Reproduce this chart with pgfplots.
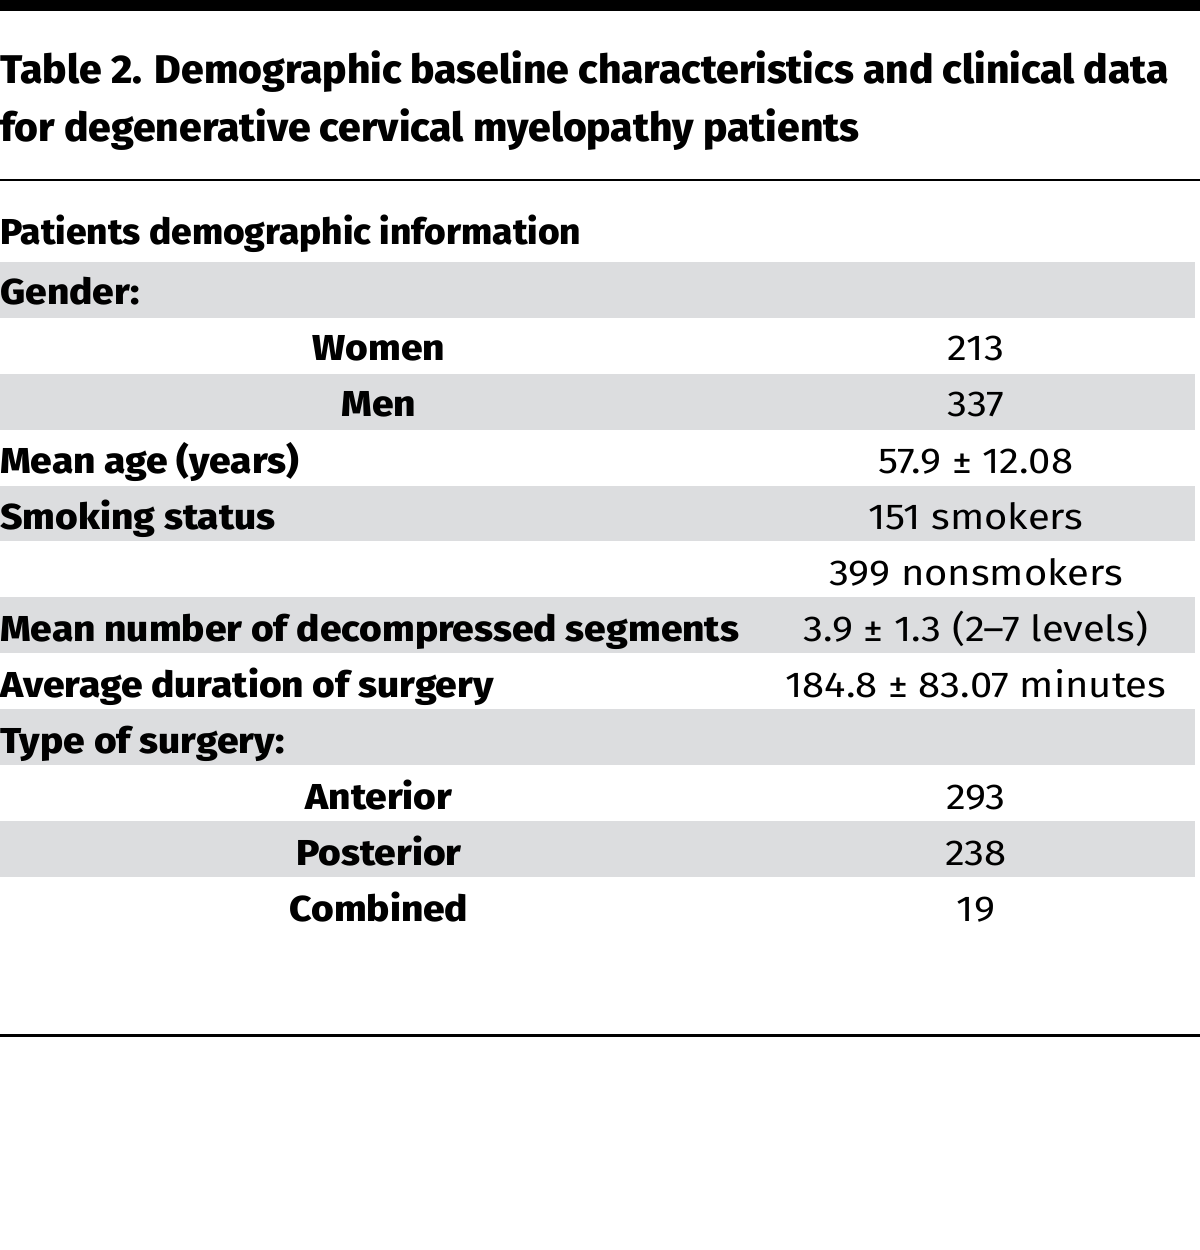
\documentclass[border=0pt]{standalone}
\usepackage{fontspec}
\setmainfont{Fira Sans}
\newfontfamily\titlefont[FakeStretch=1.02]{Fira Sans ExtraBold}
\newfontfamily\headfont[FakeStretch=1.03]{Fira Sans ExtraBold}
\newfontfamily\rowfont[FakeStretch=1.08]{Fira Sans ExtraBold}
\newfontfamily\valfont[FakeStretch=1.11]{Fira Sans}
\usepackage{pgfplots}
\pgfplotsset{compat=1.18}
\definecolor{band}{HTML}{DCDDDF}
\begin{document}
\begin{tikzpicture}[
  lbl/.style={anchor=base west,inner sep=0pt,font=\fontsize{36bp}{40bp}\rowfont},
  hd/.style={anchor=base west,inner sep=0pt,font=\fontsize{36bp}{40bp}\headfont},
  ctr/.style={anchor=base,inner sep=0pt,font=\fontsize{36bp}{40bp}\rowfont},
  val/.style={anchor=base,inner sep=0pt,font=\fontsize{36bp}{40bp}\valfont},
  ttl/.style={anchor=base west,inner sep=0pt,font=\fontsize{40bp}{44bp}\titlefont}]
\begin{axis}[width=1200bp,height=1250bp,scale only axis,
  xmin=0,xmax=1200,ymin=0,ymax=1250,y dir=reverse,hide axis,clip=false]
% shaded rows
\addplot[draw=none,fill=band] coordinates {(0,262)(1195,262)(1195,318)(0,318)} -- cycle;
\addplot[draw=none,fill=band] coordinates {(0,374)(1195,374)(1195,430)(0,430)} -- cycle;
\addplot[draw=none,fill=band] coordinates {(0,486)(1195,486)(1195,541)(0,541)} -- cycle;
\addplot[draw=none,fill=band] coordinates {(0,597)(1195,597)(1195,653)(0,653)} -- cycle;
\addplot[draw=none,fill=band] coordinates {(0,709)(1195,709)(1195,765)(0,765)} -- cycle;
\addplot[draw=none,fill=band] coordinates {(0,821)(1195,821)(1195,877)(0,877)} -- cycle;
% rules
\addplot[black,line width=11bp] coordinates {(0,5.5)(1200,5.5)};
\addplot[black,line width=2.5bp] coordinates {(0,180)(1200,180)};
\addplot[black,line width=3bp] coordinates {(0,1035)(1200,1035)};
% title
\node[ttl] at (axis cs:0,84) {Table 2. Demographic baseline characteristics and clinical data};
\node[ttl] at (axis cs:0,142) {for degenerative cervical myelopathy patients};
\node[hd] at (axis cs:0,245) {Patients demographic information};
% rows
\node[lbl] at (axis cs:0,305) {Gender:};
\node[ctr] at (axis cs:379,361) {Women};
\node[val] at (axis cs:976,361) {213};
\node[ctr] at (axis cs:379,417) {Men};
\node[val] at (axis cs:976,417) {337};
\node[lbl] at (axis cs:0,473) {Mean age (years)};
\node[val] at (axis cs:976,473) {57.9 ± 12.08};
\node[lbl] at (axis cs:0,529) {Smoking status};
\node[val] at (axis cs:976,529) {151 smokers};
\node[val] at (axis cs:976,585) {399 nonsmokers};
\node[lbl] at (axis cs:0,641) {Mean number of decompressed segments};
\node[val] at (axis cs:976,641) {3.9 ± 1.3 (2–7 levels)};
\node[lbl] at (axis cs:0,697) {Average duration of surgery};
\node[val] at (axis cs:976,697) {184.8 ± 83.07 minutes};
\node[lbl] at (axis cs:0,753) {Type of surgery:};
\node[ctr] at (axis cs:379,809) {Anterior};
\node[val] at (axis cs:976,809) {293};
\node[ctr] at (axis cs:379,865) {Posterior};
\node[val] at (axis cs:976,865) {238};
\node[ctr] at (axis cs:379,921) {Combined};
\node[val] at (axis cs:976,921) {19};
\end{axis}
\pgfresetboundingbox
\path[use as bounding box] (0,0) rectangle (1200bp,1250bp);
\end{tikzpicture}
\end{document}
